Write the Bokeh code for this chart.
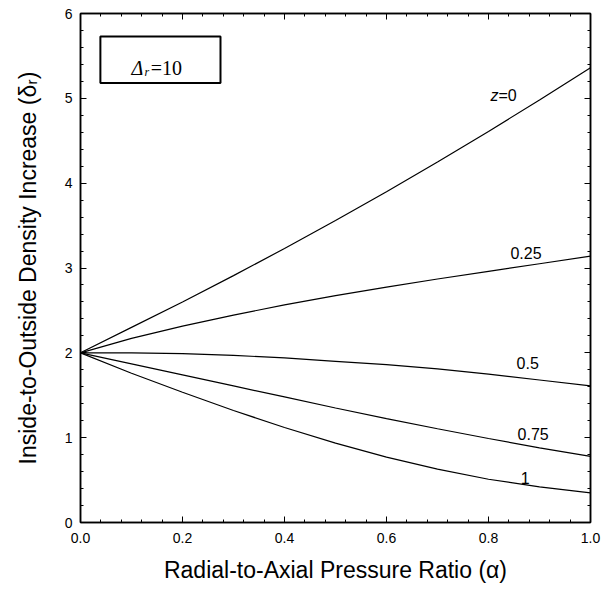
from bokeh.plotting import figure
from bokeh.models import (LinearAxis, Label, BoxAnnotation, FixedTicker, Range1d,
                          CustomJSTickFormatter)
from bokeh.embed import file_html
from bokeh.resources import INLINE

# ---- data ----
alpha = [0.0, 0.1, 0.2, 0.3, 0.4, 0.5, 0.6, 0.7, 0.8, 0.9, 1.0]
delta_z0 = [2.00, 2.30, 2.60, 2.91, 3.23, 3.56, 3.90, 4.25, 4.61, 4.98, 5.36]
delta_z025 = [2.00, 2.17, 2.315, 2.445, 2.565, 2.675, 2.775, 2.87, 2.96, 3.05, 3.14]
delta_z05 = [2.00, 2.00, 1.99, 1.97, 1.94, 1.90, 1.86, 1.81, 1.75, 1.68, 1.61]
delta_z075 = [2.00, 1.87, 1.74, 1.61, 1.48, 1.35, 1.225, 1.105, 0.99, 0.88, 0.78]
delta_z1 = [2.00, 1.76, 1.535, 1.32, 1.12, 0.935, 0.77, 0.63, 0.51, 0.42, 0.35]
series = [delta_z0, delta_z025, delta_z05, delta_z075, delta_z1]
curve_labels = ["0", "0.25", "0.5", "0.75", "1"]
x_ticks = [0.0, 0.2, 0.4, 0.6, 0.8, 1.0]
y_ticks = [0, 1, 2, 3, 4, 5, 6]
x_title = "Radial-to-Axial Pressure Ratio (\u03b1)"
y_title = "Inside-to-Outside Density Increase (\u03b4\u1d63)"

SANS = "Liberation Sans"
SERIF = "Liberation Serif"

p = figure(frame_width=510, frame_height=509,
           x_range=Range1d(0, 1), y_range=Range1d(0, 6),
           output_backend="svg", toolbar_location=None,
           min_border_left=80, min_border_right=12,
           min_border_top=13, min_border_bottom=68)
p.width = 602
p.height = 590
p.grid.visible = False
p.outline_line_color = "black"
p.outline_line_width = 1.5
p.background_fill_color = "white"
p.border_fill_color = "white"

for line in series:
    p.line(alpha, line, line_color="black", line_width=1.2)

x_minor = [round(i * 0.04, 2) for i in range(26)]
y_minor = [round(i * 0.2, 1) for i in range(31)]


def style_axis(ax, ticks, minor, show_labels):
    ax.ticker = FixedTicker(ticks=ticks, minor_ticks=minor)
    ax.major_tick_in = 6
    ax.major_tick_out = 0
    ax.minor_tick_in = 3
    ax.minor_tick_out = 0
    ax.axis_line_width = 1.5
    ax.major_tick_line_width = 1
    ax.minor_tick_line_width = 1
    if show_labels:
        ax.major_label_text_font = SANS
        ax.major_label_text_font_size = "14px"
        ax.major_label_text_color = "black"
        ax.axis_label_text_font = SANS
        ax.axis_label_text_font_size = "23px"
        ax.axis_label_text_font_style = "normal"
        ax.axis_label_text_color = "black"
    else:
        ax.formatter = CustomJSTickFormatter(code="return '';")
        ax.major_label_standoff = 0


xa = p.xaxis[0]
ya = p.yaxis[0]
style_axis(xa, x_ticks, x_minor, True)
style_axis(ya, y_ticks, y_minor, True)
xa.formatter = CustomJSTickFormatter(code="return tick.toFixed(1);")
xa.axis_label = x_title
ya.axis_label = y_title
xa.major_label_standoff = 10
xa.axis_label_standoff = 11
ya.major_label_standoff = 8
ya.axis_label_standoff = 21

top = LinearAxis()
right = LinearAxis()
style_axis(top, x_ticks, x_minor, False)
style_axis(right, y_ticks, y_minor, False)
p.add_layout(top, "above")
p.add_layout(right, "right")

# annotation box with Delta_r = 10
p.add_layout(BoxAnnotation(left=0.039, right=0.2745, bottom=5.18, top=5.73,
                           fill_color=None, fill_alpha=0,
                           line_color="black", line_alpha=1.0, line_width=2))
p.add_layout(Label(x=0.10, y=5.352, text="\u0394", text_font=SERIF,
                   text_font_style="italic", text_font_size="20px",
                   text_baseline="alphabetic", text_color="black"))
p.add_layout(Label(x=0.1255, y=5.31, text="r", text_font=SERIF,
                   text_font_style="italic", text_font_size="12px",
                   text_baseline="alphabetic", text_color="black"))
p.add_layout(Label(x=0.1375, y=5.352, text="=10", text_font=SERIF,
                   text_font_size="20px",
                   text_baseline="alphabetic", text_color="black"))

# curve labels
label_x = [0.8196, 0.843, 0.855, 0.857, 0.863]
label_y = [5.034, 3.171, 1.886, 1.049, 0.530]
p.add_layout(Label(x=0.804, y=5.034, text="z", text_font=SANS,
                   text_font_style="italic", text_font_size="16px",
                   text_baseline="alphabetic", text_color="black"))
for lx, ly, t in zip(label_x, label_y, curve_labels):
    txt = "=" + t if t == "0" else t
    p.add_layout(Label(x=lx, y=ly, text=txt, text_font=SANS,
                       text_font_size="16px", text_baseline="alphabetic",
                       text_color="black"))

open("out.html", "w").write(file_html(p, INLINE))
